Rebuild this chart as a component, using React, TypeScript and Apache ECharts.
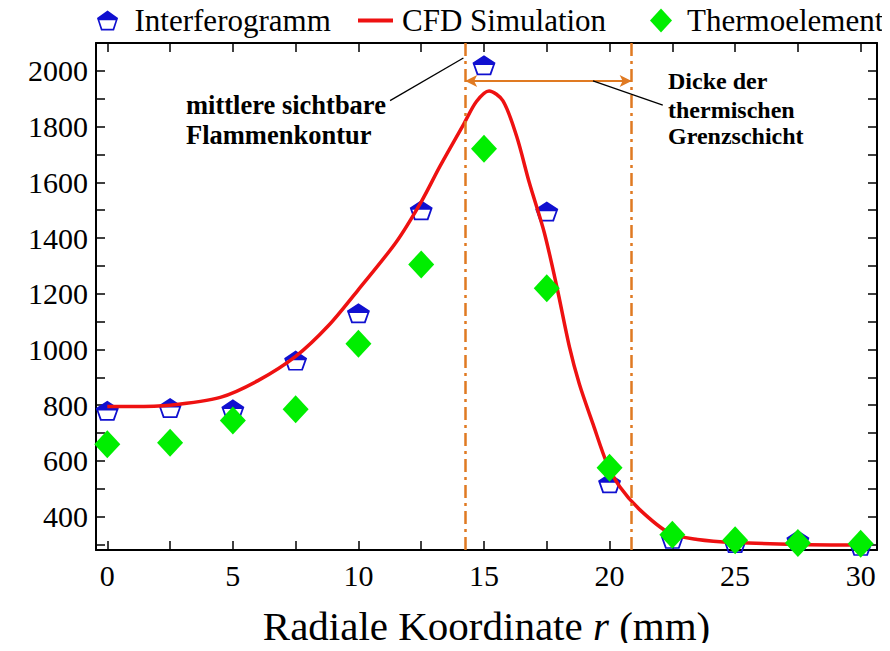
import React, { useEffect, useRef } from "react";
import * as echarts from "echarts";

const xValues = [0, 2.5, 5, 7.5, 10, 12.5, 15, 17.5, 20, 22.5, 25, 27.5, 30];
const interferogramm = [780, 790, 785, 960, 1130, 1500, 2020, 1495, 520, 320, 305, 315, 295];
const thermoelement = [660, 665, 745, 785, 1020, 1305, 1720, 1220, 575, 335, 315, 305, 302];

const cfdX = [0, 1, 2.5, 4.5, 6, 7.5, 8.8, 10, 11.5, 12.5, 13.25, 14.2, 14.7, 15.2, 15.75, 16.3, 16.8, 17.4, 17.9, 18.4, 18.8, 19.35, 19.9, 20.4, 21.2, 22.4, 23.5, 25, 27.5, 30];
const cfdY = [795, 795, 800, 828, 888, 975, 1085, 1215, 1385, 1530, 1658, 1810, 1890, 1928, 1893, 1765, 1600, 1420, 1225, 1010, 875, 730, 590, 508, 425, 340, 318, 307, 300, 298];

const xTicks = [0, 2.5, 5, 7.5, 10, 12.5, 15, 17.5, 20, 22.5, 25, 27.5, 30];
const xTickLabels = [0, 5, 10, 15, 20, 25, 30];
const yTicks = [300, 400, 500, 600, 700, 800, 900, 1000, 1100, 1200, 1300, 1400, 1500, 1600, 1700, 1800, 1900, 2000, 2100];
const yTickLabels = [400, 600, 800, 1000, 1200, 1400, 1600, 1800, 2000];

const flameContour = 14.25;
const boundaryEdge = 20.88;
const arrowLevel = 1964;

const FONT = '"Liberation Serif", "Times New Roman", serif';
const BLUE = "#1010d0";
const RED = "#ee1111";
const GREEN = "#00ee00";
const ORANGE = "#e07a22";

const PENTA =
  "path://M50,0 L100,36 L81,95 L19,95 L0,36 Z M50,9 L9,39 L25,87 L75,87 L91,39 Z M50,0 L100,36 L97,46 L3,46 L0,36 Z";

export default function App() {
  const ref = useRef<HTMLDivElement>(null);
  useEffect(() => {
    if (!ref.current) return;
    const chart = echarts.init(ref.current, null, { renderer: "svg" });
    const lineCommon = { show: true, onZero: false, lineStyle: { color: "#000", width: 2 } };
    const tickStyle = { color: "#000", width: 1.5 };
    const labelRich = { t: { fontFamily: FONT, fontSize: 30, color: "#000" } };
    const fmt = (v: number) => `{t|${String(v)}}`;
    const xBase = { type: "value", min: -0.45, max: 30.65, splitLine: { show: false }, axisLine: lineCommon };
    const yBase = { type: "value", min: 280, max: 2100, splitLine: { show: false }, axisLine: lineCommon };
    chart.setOption({
      animation: false,
      backgroundColor: "#fff",
      grid: { left: 96, right: 13, top: 43, bottom: 89, containLabel: false },
      legend: [
        {
          left: 92,
          top: 0,
          itemWidth: 22,
          itemHeight: 20,
          data: [{ name: "Interferogramm", icon: PENTA }],
          textStyle: { fontFamily: FONT, fontSize: 31, color: "#000", padding: [0, 0, 0, 11] },
        },
        {
          left: 353,
          top: 0,
          itemWidth: 35,
          itemHeight: 4,
          data: [{ name: "CFD Simulation", icon: "rect" }],
          textStyle: { fontFamily: FONT, fontSize: 31, color: "#000", padding: [0, 0, 0, 4] },
        },
        {
          left: 645,
          top: 0,
          itemWidth: 22,
          itemHeight: 24,
          data: [{ name: "Thermoelement", icon: "diamond" }],
          textStyle: { fontFamily: FONT, fontSize: 31, color: "#000", padding: [0, 0, 0, 10] },
        },
      ],
      xAxis: [
        {
          ...xBase,
          position: "bottom",
          axisTick: { show: true, inside: true, length: 9, lineStyle: tickStyle, customValues: xTicks },
          axisLabel: {
            fontFamily: FONT,
            fontSize: 30,
            color: "#000",
            margin: 10,
            customValues: xTickLabels,
            formatter: fmt,
            rich: labelRich,
          },
          name: "Radiale Koordinate {i|r} (mm)",
          nameLocation: "middle",
          nameGap: 55,
          nameTextStyle: {
            fontFamily: FONT,
            fontSize: 41,
            color: "#000",
            rich: { i: { fontFamily: FONT, fontSize: 41, fontStyle: "italic", color: "#000" } },
          },
        },
        {
          ...xBase,
          position: "top",
          axisTick: { show: true, inside: true, length: 9, lineStyle: tickStyle, customValues: xTicks },
          axisLabel: { show: false },
        },
      ],
      yAxis: [
        {
          ...yBase,
          position: "left",
          axisTick: { show: true, inside: true, length: 9, lineStyle: tickStyle, customValues: yTicks },
          axisLabel: {
            fontFamily: FONT,
            fontSize: 30,
            color: "#000",
            margin: 8,
            customValues: yTickLabels,
            formatter: fmt,
            rich: labelRich,
          },
        },
        {
          ...yBase,
          position: "right",
          axisTick: { show: true, inside: true, length: 9, lineStyle: tickStyle, customValues: yTicks },
          axisLabel: { show: false },
        },
      ],
      series: [
        {
          name: "Interferogramm",
          type: "scatter",
          symbol: PENTA,
          symbolSize: [23, 20],
          itemStyle: { color: BLUE, opacity: 1 },
          z: 2,
          data: xValues.map((x, i) => [x, interferogramm[i]]),
        },
        {
          name: "CFD Simulation",
          type: "line",
          smooth: 0.3,
          showSymbol: false,
          symbol: "none",
          lineStyle: { color: RED, width: 3.5 },
          itemStyle: { color: RED },
          z: 3,
          data: cfdX.map((x, i) => [x, cfdY[i]]),
          markLine: {
            silent: true,
            animation: false,
            label: { show: false },
            symbol: ["none", "none"],
            data: [
              { xAxis: flameContour, lineStyle: { color: ORANGE, width: 2.5, type: [13, 5, 3, 5] } },
              { xAxis: boundaryEdge, lineStyle: { color: ORANGE, width: 2.5, type: [13, 5, 3, 5] } },
              [
                { coord: [flameContour, arrowLevel], symbol: "arrow", symbolSize: [9, 12] },
                {
                  coord: [boundaryEdge, arrowLevel],
                  symbol: "arrow",
                  symbolSize: [9, 12],
                  lineStyle: { color: ORANGE, width: 2.2, type: "solid" },
                },
              ],
              [
                { coord: [11.26, 1893], symbol: "none" },
                { coord: [14.18, 2046], symbol: "none", lineStyle: { color: "#000", width: 1.3, type: "solid" } },
              ],
              [
                { coord: [19.34, arrowLevel], symbol: "none" },
                { coord: [22.12, 1877], symbol: "none", lineStyle: { color: "#000", width: 1.3, type: "solid" } },
              ],
            ],
          },
        },
        {
          name: "Thermoelement",
          type: "scatter",
          symbol: "diamond",
          symbolSize: [26, 28],
          itemStyle: { color: GREEN, opacity: 1 },
          z: 4,
          data: xValues.map((x, i) => [x, thermoelement[i]]),
        },
      ],
      graphic: [
        { type: "text", left: 186, top: 91, style: { text: "mittlere sichtbare", font: `bold 26.5px ${FONT}`, fill: "#000" } },
        { type: "text", left: 186, top: 121, style: { text: "Flammenkontur", font: `bold 26.5px ${FONT}`, fill: "#000" } },
        { type: "text", left: 668, top: 69, style: { text: "Dicke der", font: `bold 24px ${FONT}`, fill: "#000" } },
        { type: "text", left: 668, top: 98, style: { text: "thermischen", font: `bold 24px ${FONT}`, fill: "#000" } },
        { type: "text", left: 668, top: 124, style: { text: "Grenzschicht", font: `bold 24px ${FONT}`, fill: "#000" } },
      ],
    });
    return () => chart.dispose();
  }, []);
  return <div ref={ref} style={{ width: 890, height: 651, margin: -8 }} />;
}
